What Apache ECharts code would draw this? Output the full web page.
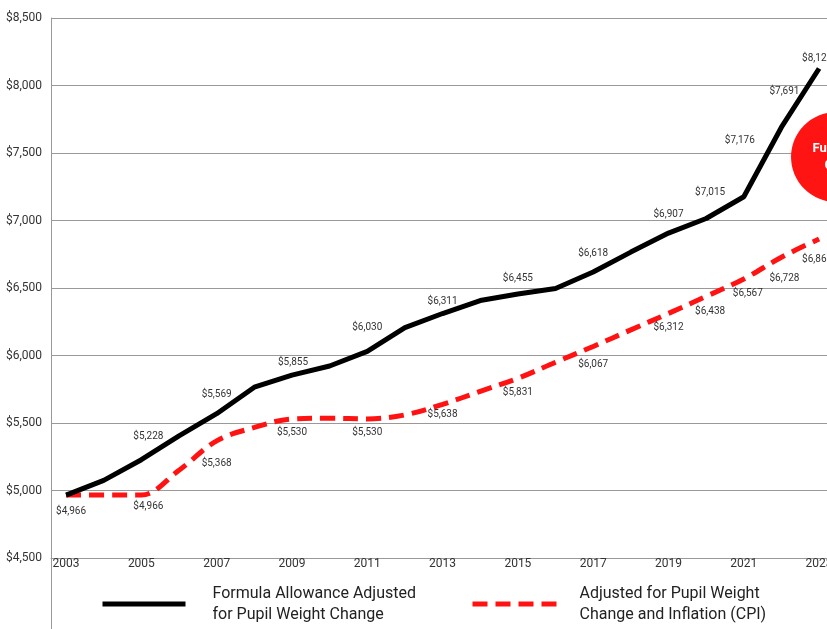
<!DOCTYPE html>
<html><head><meta charset="utf-8">
<script src="https://cdn.jsdelivr.net/npm/echarts@6/dist/echarts.min.js"></script>
<style>html,body{margin:0;padding:0;background:#fff;overflow:hidden}#c{width:827px;height:629px}</style>
</head><body><div id="c"></div>
<script>
// ---- data ----
const years = [2003,2004,2005,2006,2007,2008,2009,2010,2011,2012,2013,2014,2015,2016,2017,2018,2019,2020,2021,2022,2023];
const allowance = [4966,5075,5228,5405,5569,5765,5855,5922,6030,6207,6311,6407,6455,6496,6618,6766,6907,7015,7176,7691,8126];
const allowanceCpi = [4966,4966,4966,5150,5368,5467,5530,5535,5530,5560,5638,5735,5831,5950,6067,6190,6312,6438,6567,6728,6863];
const xTickYears = [2003,2005,2007,2009,2011,2013,2015,2017,2019,2021,2023];
const labeledYearsAllowance = [2005,2007,2009,2011,2013,2015,2017,2019,2020,2021,2022,2023];
const labeledYearsCpi = [2003,2005,2007,2009,2011,2013,2015,2017,2019,2020,2021,2022,2023];
const seriesNames = ['Formula Allowance Adjusted\nfor Pupil Weight Change', 'Adjusted for Pupil Weight\nChange and Inflation (CPI)'];
const calloutText = 'Funding\nGap';
const calloutAt = [2023.45, 7470];

// ---- style nudges for label placement (pixels) ----
const nudgeAllowance = {2005:[7,-4],2009:[1,6],2011:[0,-5],2013:[0,7],2015:[0,3],2020:[4,-7],2021:[-4,-37],2022:[3,-17],2023:[-2,9]};
const nudgeCpi = {2003:[5,2],2005:[7,-3],2007:[0,9],2013:[0,-4],2017:[0,4],2020:[4,1],2021:[4,1],2022:[3,7],2023:[-2,7]};

const money = v => '$' + Math.round(v).toLocaleString('en-US');
function build(vals, labeled, nudge) {
  return years.map((y, i) => ({
    value: [y, vals[i]],
    label: { show: labeled.includes(y), offset: nudge[y] || [0, 0] }
  }));
}
const font = 'Roboto, "Noto Sans", sans-serif';
const chart = echarts.init(document.getElementById('c'));
chart.setOption({
  animation: false,
  backgroundColor: '#fff',
  grid: { left: 51, right: 0, top: 18, bottom: 71, outerBoundsMode: 'none', containLabel: false },
  xAxis: {
    type: 'value', min: 2002.6, max: 2023.21,
    axisLine: { show: true, lineStyle: { color: '#999', width: 1 } },
    axisTick: { show: false },
    splitLine: { show: false },
    axisLabel: { customValues: xTickYears, formatter: v => String(v), color: '#333', fontSize: 12, fontFamily: font, margin: 0, verticalAlign: 'top' }
  },
  yAxis: {
    type: 'value', min: 4500, max: 8500, interval: 500,
    axisLine: { show: true, lineStyle: { color: '#999', width: 1 } },
    axisTick: { show: false },
    splitLine: { show: true, lineStyle: { color: '#999', width: 1 } },
    axisLabel: { formatter: money, color: '#333', fontSize: 12, fontFamily: font, margin: 9 }
  },
  legend: [
    { data: [seriesNames[0]], left: 100, top: 583, padding: 0, itemWidth: 83, itemHeight: 5,
      itemStyle: { opacity: 0 }, lineStyle: { width: 5 },
      textStyle: { fontSize: 16, lineHeight: 21, color: '#222', fontFamily: font, padding: [0,0,0,22] } },
    { data: [seriesNames[1]], left: 470, top: 583, padding: 0, itemWidth: 84, itemHeight: 5,
      itemStyle: { opacity: 0 }, lineStyle: { width: 5 },
      textStyle: { fontSize: 16, lineHeight: 21, color: '#222', fontFamily: font, padding: [0,0,0,18] } }
  ],
  series: [
    {
      name: seriesNames[1], type: 'line', smooth: 0.35,
      data: build(allowanceCpi, labeledYearsCpi, nudgeCpi),
      symbol: 'circle', symbolSize: 0, showSymbol: true,
      itemStyle: { color: '#ff1212' },
      lineStyle: { color: '#ff1212', width: 5, type: [15, 8] },
      label: { position: 'bottom', distance: 9, formatter: p => money(p.value[1]), color: '#333', fontSize: 10, fontFamily: font },
      z: 2
    },
    {
      name: seriesNames[0], type: 'line',
      data: build(allowance, labeledYearsAllowance, nudgeAllowance),
      symbol: 'circle', symbolSize: 0, showSymbol: true,
      itemStyle: { color: '#000' },
      lineStyle: { color: '#000', width: 5 },
      label: { position: 'top', distance: 14, formatter: p => money(p.value[1]), color: '#333', fontSize: 10, fontFamily: font },
      z: 3
    }
  ]
});
// callout circle placed through the chart's own scales
const pc = chart.convertToPixel({gridIndex: 0}, calloutAt);
chart.setOption({ graphic: [
  { type: 'line', shape: { x1: 51.5, y1: 558, x2: 51.5, y2: 629 }, style: { stroke: '#999', lineWidth: 1 }, silent: true },
  { type: 'circle', shape: { cx: pc[0], cy: pc[1], r: 45 }, style: { fill: '#ff1414' }, z: 10, silent: true },
  { type: 'text', x: pc[0], y: pc[1], z: 11, silent: true, style: { text: calloutText, fill: '#fff', font: 'bold 13px ' + font, lineHeight: 17, align: 'center', verticalAlign: 'middle' } }
]});
</script></body></html>
